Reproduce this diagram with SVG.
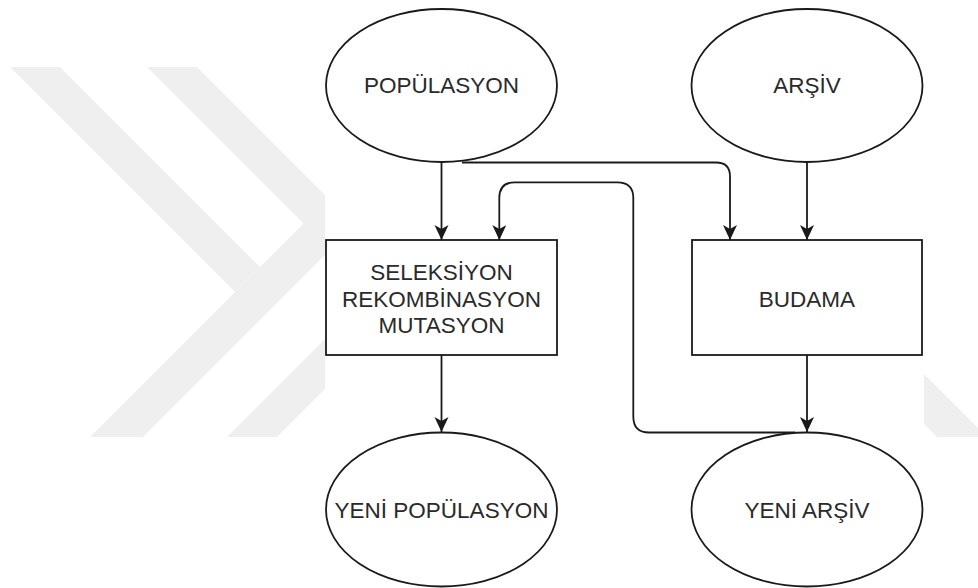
<svg xmlns="http://www.w3.org/2000/svg" width="978" height="588" viewBox="0 0 978 588">
<style>
.wm{fill:#efefef;stroke:none}
.node{fill:#ffffff;stroke:#1a1a1a;stroke-width:1.8}
.lbl{font-family:"Liberation Sans",Arial,Helvetica,sans-serif;font-size:22.5px;fill:#2a2a2a;text-anchor:middle}
.edge{fill:none;stroke:#1a1a1a;stroke-width:1.8;marker-end:url(#arr)}
</style>
<defs>
<marker id="arr" markerUnits="userSpaceOnUse" markerWidth="16" markerHeight="16" refX="15" refY="7" orient="auto" viewBox="0 0 16 16">
<path d="M0,0 L15,7 L0,14 L4,7 Z" fill="#1a1a1a"/>
</marker>
</defs>
<rect x="0" y="0" width="978" height="588" fill="#ffffff"/>
<g id="watermark">
<polygon class="wm" points="10,67 60,67 260,267 235,292"/>
<polygon class="wm" points="90,437 143,437 325,255 325,202"/>
<polygon class="wm" points="147,67 197,67 325,195 325,245"/>
<polygon class="wm" points="227,437 277,437 325,389 325,339"/>
<polygon class="wm" points="924,374 978,428 978,437 937,437 924,424"/>
</g>
<g id="connectors">
<path class="edge" d="M441.5,162 L441.5,240"/>
<path class="edge" d="M462,162.5 L716,162.5 Q730,162.5 730,176.5 L730,240"/>
<path class="edge" d="M807,162 L807,240"/>
<path class="edge" d="M441.5,355 L441.5,432"/>
<path class="edge" d="M807,355 L807,432"/>
<path class="edge" d="M795,432.5 L649,432.5 Q633.3,432.5 633.3,416.5 L633.3,198 Q633.3,182.3 617.3,182.3 L515,182.3 Q499.3,182.3 499.3,198 L499.3,240"/>
</g>
<g id="n-populasyon">
<ellipse class="node" cx="441.5" cy="85.5" rx="115.5" ry="76.5"/>
<text class="lbl" x="441.5" y="93">POPÜLASYON</text>
</g>
<g id="n-arsiv">
<ellipse class="node" cx="807" cy="85.5" rx="115.5" ry="76.5"/>
<text class="lbl" x="807" y="93">ARŞİV</text>
</g>
<g id="n-seleksiyon">
<rect class="node" x="326" y="240" width="231" height="115"/>
<text class="lbl" x="441.5" y="280">SELEKSİYON</text>
<text class="lbl" x="441.5" y="307">REKOMBİNASYON</text>
<text class="lbl" x="441.5" y="333">MUTASYON</text>
</g>
<g id="n-budama">
<rect class="node" x="692" y="240" width="230" height="115"/>
<text class="lbl" x="807" y="307">BUDAMA</text>
</g>
<g id="n-yeni-populasyon">
<ellipse class="node" cx="441.5" cy="509.5" rx="115.5" ry="77"/>
<text class="lbl" x="441.5" y="518">YENİ POPÜLASYON</text>
</g>
<g id="n-yeni-arsiv">
<ellipse class="node" cx="807" cy="509.5" rx="115.5" ry="77"/>
<text class="lbl" x="807" y="518">YENİ ARŞİV</text>
</g>
</svg>
